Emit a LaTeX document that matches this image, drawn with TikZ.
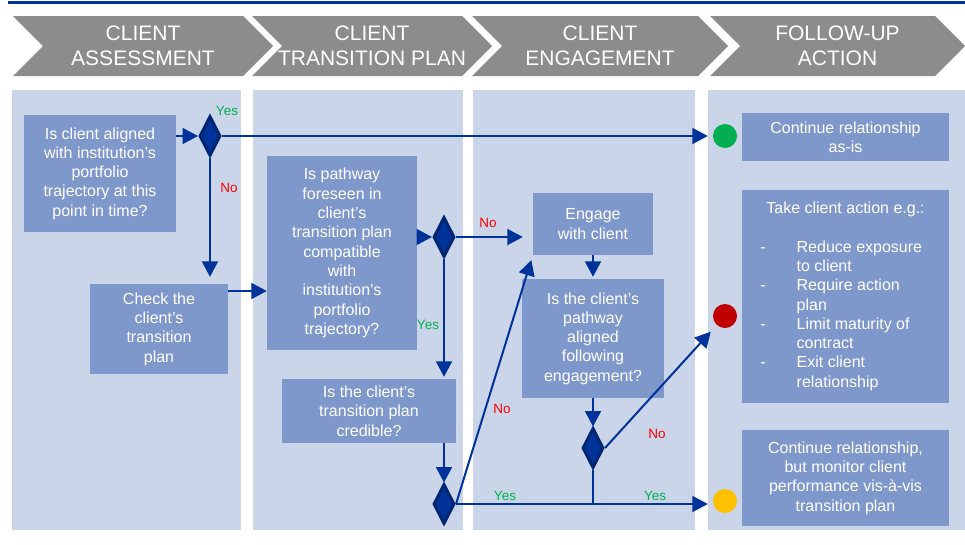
\documentclass[tikz,border=0pt]{standalone}
\usepackage{fontspec}
\setmainfont{Liberation Sans}
\usetikzlibrary{shapes.geometric,arrows.meta}

\definecolor{navy}{HTML}{003399}
\definecolor{darknavy}{HTML}{002672}
\definecolor{stagegray}{HTML}{8C8C8C}
\definecolor{lanebg}{HTML}{CAD5E9}
\definecolor{boxbg}{HTML}{7F98CB}
\definecolor{yesgreen}{HTML}{00B050}
\definecolor{nored}{HTML}{FF0000}
\definecolor{lightgreen}{HTML}{00B050}
\definecolor{lightred}{HTML}{C00000}
\definecolor{lightamber}{HTML}{FFC000}

\begin{document}
\begin{tikzpicture}[x=1pt, y=-1pt,
  lane/.style={fill=lanebg},
  stage/.style={fill=stagegray},
  stagetext/.style={text=white, align=center, font=\fontsize{21}{25.5}\selectfont},
  box/.style={fill=boxbg, text=white, align=center, inner sep=0pt, font=\fontsize{16}{19.3}\selectfont},
  decision/.style={diamond, fill=navy, draw=darknavy, line width=3pt, minimum width=21pt, minimum height=40pt, inner sep=0pt},
  light/.style={circle, minimum size=24pt, inner sep=0pt},
  flow/.style={navy, line width=2pt, -{Triangle[length=15.5pt,width=16pt]}},
  yes/.style={text=yesgreen, font=\fontsize{13.5}{15}\selectfont},
  no/.style={text=nored, font=\fontsize{13.5}{15}\selectfont}]

\useasboundingbox (0,0) rectangle (965,544);

\draw[navy, line width=3pt] (8,2) -- (965,2);

% stages
\foreach \x/\w/\txt in {13/230/{CLIENT\\ASSESSMENT}, 252/210/{CLIENT\\TRANSITION PLAN}, 472/226/{CLIENT\\ENGAGEMENT}, 710/225/{FOLLOW-UP\\ACTION}}
{
  \fill[stage] (\x,16) -- ++(\w,0) -- ++(30,30) -- ++(-30,30) -- ++(-\w,0) -- ++(30,-30) -- cycle;
  \node[stagetext] at (\x+\w/2+15,46) {\txt};
}

% lanes
\foreach \a/\b in {12/241, 253/463, 473/695, 708/965}
  \fill[lane] (\a,90) rectangle (\b,530);

% boxes
\node[box, minimum width=152pt, minimum height=117pt] (aligned) at (100,173.5) {Is client aligned\\with institution's\\portfolio\\trajectory at this\\point in time?};
\node[box, minimum width=138pt, minimum height=90pt] (checkplan) at (159,329) {Check the\\client's\\transition\\plan};
\node[box, minimum width=150pt, minimum height=194pt] (pathway) at (342,253) {Is pathway\\foreseen in\\client's\\transition plan\\compatible\\with\\institution's\\portfolio\\trajectory?};
\node[box, minimum width=174pt, minimum height=64pt] (credible) at (369,411) {Is the client's\\transition plan\\credible?};
\node[box, minimum width=120pt, minimum height=62pt] (engage) at (593,224) {Engage\\with client};
\node[box, minimum width=142pt, minimum height=119pt] (postengage) at (593,338.5) {Is the client's\\pathway\\aligned\\following\\engagement?};
\node[box, minimum width=207pt, minimum height=48pt] (asis) at (845.5,137) {Continue relationship\\as-is};
\node[box, minimum width=207pt, minimum height=213pt] (action) at (845.5,296.5) {%
  \begin{tabular}{@{}l@{\hspace{31pt}}l@{}}
  \multicolumn{2}{c}{Take client action e.g.:}\\[19.3pt]
  - & Reduce exposure\\
    & to client\\
  - & Require action\\
    & plan\\
  - & Limit maturity of\\
    & contract\\
  - & Exit client\\
    & relationship
  \end{tabular}};
\node[box, minimum width=207pt, minimum height=96pt] (monitor) at (845.5,478) {Continue relationship,\\but monitor client\\performance vis-à-vis\\transition plan};

% decisions
\node[decision] (d1) at (210,136) {};
\node[decision] (d2) at (444,237) {};
\node[decision] (d3) at (444,504) {};
\node[decision] (d4) at (593,448) {};

% outcome lights
\node[light, fill=lightgreen] (green) at (725,136) {};
\node[light, fill=lightred] (red) at (725,316) {};
\node[light, fill=lightamber] (amber) at (725,501) {};

% connectors
\coordinate (plan2path) at (228,291);
\draw[flow] (aligned.east |- d1) -- (d1.west);
\draw[flow, shorten >=5pt] (d1.east) -- (green.west);
\draw[flow, shorten >=7pt] (d1.south) -- (d1.south |- checkplan.north);
\draw[flow] (plan2path) -- (plan2path -| pathway.west);
\draw[flow] (pathway.east |- d2) -- (d2.west);
\draw[flow, shorten >=10pt] (d2.east) -- (d2.east -| engage.west);
\draw[flow, shorten >=2pt] (d2.south) -- (d2.south |- credible.north);
\draw[flow] (credible.south -| d3) -- (d3.north);
\draw[flow, shorten >=5pt] (d3.east) -- (d3.east -| amber.west);
\draw[flow, shorten >=5pt] (d3.east) -- (engage.south west);
\draw[flow, shorten >=2pt] (engage.south) -- (postengage.north);
\draw[flow] (postengage.south) -- (d4.north);
\draw[navy, line width=2pt] (d4.south) -- (d4 |- d3.east);
\draw[flow, shorten >=9pt] (d4.east) -- (red);

% yes / no
\node[yes] (yes1) at (227,111) {Yes};
\node[no] (no1) at (229,188) {No};
\node[no] (no2) at (488,223) {No};
\node[yes] (yes2) at (428,325) {Yes};
\node[no] (no3) at (502,409) {No};
\node[no] (no4) at (657,434) {No};
\node[yes] (yes3) at (505,496) {Yes};
\node[yes] (yes4) at (655,496) {Yes};

\end{tikzpicture}
\end{document}
